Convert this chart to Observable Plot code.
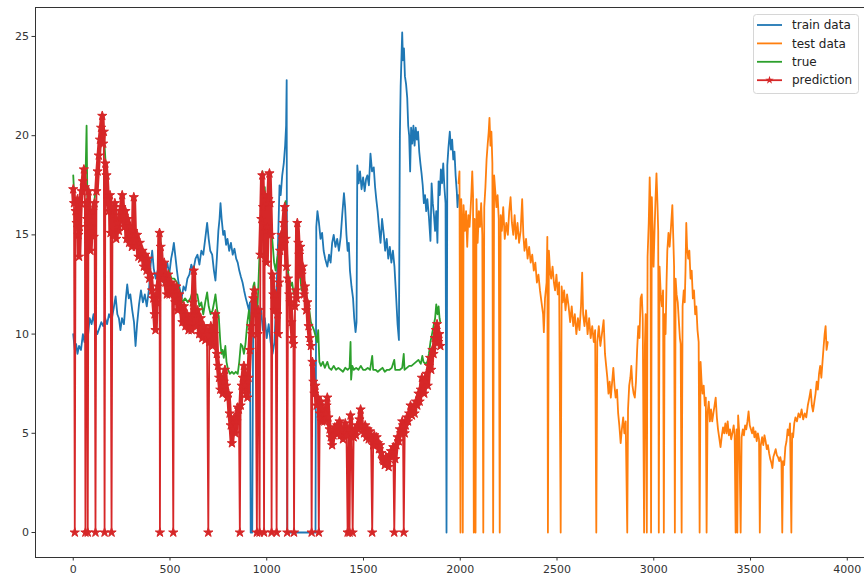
<!DOCTYPE html>
<html>
<head>
<meta charset="utf-8">
<script src="https://cdn.jsdelivr.net/npm/d3@7"></script>
<script src="https://cdn.jsdelivr.net/npm/@observablehq/plot@0.6"></script>
<style>
  html, body { margin: 0; padding: 0; background: #fff; }
  #chart { width: 864px; height: 581px; }
</style>
</head>
<body>
<div id="chart"></div>
<script>
// ---- data: [x, value] pairs ----
const train = [[0,10.0],[8,9.2],[15,9.5],[22,9.0],[30,9.4],[40,9.2],[50,10.0],[58,9.6],[66,10.2],[75,9.8],[85,10.8],[95,10.5],[105,11.0],[112,10.4],[124,10.0],[135,10.3],[145,10.6],[155,10.4],[165,10.8],[175,10.5],[185,11.0],[198,10.7],[209,11.3],[219,11.9],[228,11.0],[236,10.8],[244,10.2],[252,10.8],[262,10.5],[272,11.8],[279,12.5],[287,11.8],[295,12.0],[305,11.2],[314,10.6],[322,9.4],[330,10.5],[340,11.5],[350,12.2],[360,11.6],[370,12.0],[380,11.4],[392,12.3],[400,13.5],[408,14.2],[416,13.3],[426,12.8],[436,13.2],[446,12.5],[456,13.0],[466,12.6],[476,13.2],[486,13.6],[496,13.0],[506,13.8],[514,14.2],[520,14.6],[528,13.9],[536,13.2],[544,12.6],[552,12.2],[560,11.8],[570,12.4],[580,12.2],[590,12.8],[600,13.0],[610,13.5],[620,13.2],[632,13.8],[642,14.0],[652,13.5],[662,14.2],[672,14.0],[682,14.8],[692,15.6],[700,14.8],[708,14.2],[718,14.0],[727,13.2],[735,12.7],[742,13.8],[750,15.2],[756,15.8],[761,16.6],[767,15.8],[775,15.0],[782,15.2],[790,14.5],[797,14.8],[806,14.2],[815,14.6],[824,14.0],[833,14.3],[842,13.8],[850,13.6],[858,13.2],[866,12.9],[875,12.6],[883,12.2],[892,11.8],[900,11.5],[908,11.2],[913,11.6],[917,0],[925,0],[930,11.0],[940,11.8],[950,11.2],[960,10.6],[970,11.3],[980,10.2],[990,10.8],[1000,9.8],[1010,10.5],[1020,9.6],[1030,9.0],[1040,9.6],[1050,12.0],[1060,15.2],[1066,17.5],[1072,17.0],[1080,18.0],[1088,18.6],[1095,19.5],[1100,20.5],[1103,22.8],[1106,0],[1252,0],[1256,15.4],[1262,16.2],[1270,15.6],[1278,14.8],[1286,15.1],[1294,14.2],[1302,13.8],[1313,13.4],[1322,14.0],[1330,13.6],[1338,14.6],[1346,15.0],[1355,14.4],[1364,14.8],[1373,14.2],[1382,14.9],[1390,16.0],[1399,17.1],[1405,16.4],[1412,15.0],[1418,14.2],[1424,14.6],[1430,13.2],[1438,12.4],[1446,11.8],[1452,10.8],[1459,10.1],[1464,10.6],[1468,18.5],[1475,17.6],[1482,18.2],[1490,17.3],[1498,17.9],[1506,17.2],[1513,17.8],[1520,18.0],[1528,17.5],[1536,19.1],[1544,18.2],[1553,18.4],[1560,17.4],[1566,16.8],[1573,16.2],[1580,15.4],[1588,14.6],[1596,15.8],[1605,15.0],[1612,14.2],[1620,14.8],[1628,13.8],[1636,14.4],[1644,13.6],[1652,14.2],[1660,13.4],[1668,12.0],[1676,10.5],[1683,9.7],[1688,20.0],[1692,22.5],[1697,24.2],[1700,25.2],[1704,23.8],[1709,24.4],[1714,23.0],[1720,22.6],[1726,21.9],[1731,20.5],[1736,20.0],[1741,18.2],[1746,20.4],[1752,19.6],[1758,20.5],[1764,19.5],[1770,20.4],[1776,19.8],[1782,20.2],[1788,19.2],[1794,18.6],[1800,18.1],[1806,17.5],[1812,16.6],[1818,17.0],[1824,16.2],[1830,16.8],[1838,15.9],[1846,14.7],[1852,17.6],[1858,16.6],[1864,16.0],[1870,15.2],[1876,16.2],[1882,14.6],[1888,17.7],[1894,17.0],[1900,18.3],[1906,17.6],[1912,18.6],[1918,17.4],[1924,16.6],[1929,0],[1933,18.5],[1939,19.4],[1946,20.2],[1952,19.3],[1958,19.8],[1964,18.8],[1970,19.2],[1976,18.0],[1982,17.2],[1986,16.4],[1990,17.0]];

const test = [[1991,17.6],[1996,18.2],[2001,0],[2005,16.8],[2009,15.6],[2013,0],[2017,16.5],[2024,15.2],[2030,16.2],[2036,14.4],[2042,16.0],[2048,15.4],[2054,16.4],[2058,17.2],[2062,18.2],[2066,17.0],[2070,0],[2074,15.8],[2079,0],[2084,16.8],[2090,14.6],[2096,16.2],[2102,15.4],[2108,16.6],[2114,15.0],[2119,0],[2124,16.4],[2130,17.4],[2136,18.8],[2142,19.6],[2147,20.2],[2151,20.9],[2156,19.5],[2161,20.2],[2166,18.6],[2170,0],[2175,18.0],[2181,17.2],[2187,16.4],[2193,17.0],[2199,15.8],[2204,0],[2209,16.0],[2215,15.2],[2222,16.4],[2230,14.8],[2238,15.6],[2246,15.0],[2253,16.2],[2260,16.9],[2267,15.6],[2274,15.0],[2281,16.0],[2288,14.8],[2296,15.6],[2304,14.6],[2312,15.2],[2320,16.8],[2326,15.0],[2332,14.2],[2340,14.8],[2348,13.8],[2356,14.4],[2364,13.6],[2372,14.0],[2380,13.2],[2388,13.6],[2396,12.6],[2404,13.0],[2412,12.2],[2420,11.6],[2428,11.0],[2432,10.1],[2438,11.8],[2446,12.6],[2450,14.9],[2453,0],[2458,14.2],[2464,13.2],[2470,12.8],[2477,13.4],[2484,12.6],[2490,12.2],[2497,13.0],[2504,12.0],[2511,12.6],[2519,0],[2524,12.4],[2530,11.6],[2537,12.2],[2544,11.2],[2552,12.0],[2560,11.4],[2568,10.6],[2576,11.4],[2584,10.4],[2592,11.0],[2600,10.0],[2608,10.8],[2616,10.2],[2624,11.4],[2630,13.1],[2635,11.0],[2642,10.4],[2650,11.2],[2658,10.0],[2666,10.8],[2674,9.8],[2682,10.4],[2690,9.6],[2697,10.2],[2703,0],[2708,9.6],[2716,10.4],[2724,9.4],[2732,10.0],[2741,10.7],[2748,9.0],[2754,8.4],[2760,7.8],[2766,7.0],[2772,7.6],[2778,6.8],[2785,7.6],[2791,8.3],[2797,7.4],[2803,6.8],[2810,7.2],[2816,6.0],[2822,5.4],[2829,4.5],[2835,5.2],[2842,5.8],[2848,5.0],[2855,5.6],[2863,0],[2867,6.2],[2873,7.4],[2879,7.8],[2884,8.4],[2890,7.4],[2896,7.0],[2902,6.8],[2908,7.6],[2914,9.2],[2920,10.4],[2926,9.8],[2932,11.8],[2938,12.0],[2943,10.8],[2950,0],[2954,9.4],[2958,11.0],[2964,0],[2968,13.9],[2974,15.6],[2979,17.9],[2983,16.4],[2986,0],[2990,16.9],[2995,15.0],[2999,13.4],[3004,15.2],[3009,16.8],[3014,18.1],[3019,16.6],[3023,15.2],[3026,0],[3030,13.4],[3036,12.0],[3042,11.4],[3048,12.2],[3052,0],[3056,11.0],[3061,10.0],[3066,12.6],[3070,14.2],[3076,15.1],[3082,14.4],[3089,15.4],[3096,16.5],[3101,14.8],[3105,13.4],[3109,0],[3113,12.8],[3118,12.0],[3124,11.6],[3130,10.6],[3135,9.8],[3139,9.5],[3144,0],[3149,11.4],[3155,12.2],[3160,11.6],[3164,13.2],[3168,15.6],[3172,14.4],[3178,13.8],[3184,14.2],[3190,12.8],[3196,13.2],[3202,11.8],[3208,12.2],[3214,11.0],[3220,11.4],[3226,10.2],[3232,9.6],[3237,0],[3242,8.6],[3247,7.6],[3252,7.0],[3258,7.4],[3264,6.4],[3269,6.8],[3273,0],[3278,6.0],[3284,6.6],[3290,5.6],[3296,6.2],[3302,5.6],[3308,6.0],[3314,6.4],[3320,6.8],[3326,5.8],[3332,5.2],[3338,4.8],[3345,4.3],[3352,4.9],[3358,5.3],[3364,5.0],[3370,5.5],[3376,5.0],[3382,5.6],[3388,4.9],[3394,5.2],[3400,4.7],[3406,5.0],[3413,5.4],[3418,4.9],[3423,0],[3428,5.2],[3432,0],[3436,5.9],[3442,5.0],[3449,0],[3454,4.8],[3460,5.2],[3466,4.9],[3472,5.4],[3478,5.2],[3484,5.6],[3490,6.1],[3496,5.4],[3502,5.2],[3508,5.0],[3514,5.3],[3520,4.8],[3526,5.1],[3532,4.6],[3538,5.0],[3544,4.7],[3548,0],[3553,4.4],[3560,4.8],[3566,4.4],[3572,4.9],[3578,4.6],[3584,4.2],[3590,4.4],[3596,4.0],[3602,3.7],[3608,3.5],[3613,3.25],[3618,3.8],[3624,4.0],[3630,4.2],[3636,3.9],[3642,3.8],[3648,3.6],[3654,3.8],[3660,3.5],[3664,0],[3668,3.6],[3674,3.4],[3680,4.3],[3686,4.6],[3692,5.2],[3698,4.9],[3704,5.5],[3711,0],[3715,5.0],[3720,4.8],[3726,5.5],[3732,5.8],[3740,5.6],[3748,6.0],[3756,5.8],[3764,6.2],[3772,5.7],[3780,6.0],[3788,5.8],[3796,6.4],[3804,6.8],[3811,7.2],[3817,6.4],[3823,6.1],[3830,6.6],[3836,7.0],[3842,7.6],[3848,7.2],[3854,8.0],[3860,8.4],[3866,7.8],[3872,8.6],[3878,9.4],[3883,10.0],[3888,10.4],[3893,9.2],[3899,9.6]];

const truth = [[0,18.0],[6,16.8],[12,16.6],[20,16.0],[28,14.4],[36,16.2],[44,17.4],[52,18.0],[60,17.8],[65,18.6],[69,20.5],[73,16.8],[82,16.4],[90,14.6],[100,16.4],[110,16.8],[120,17.6],[132,19.2],[144,20.4],[150,21.0],[160,19.8],[170,18.2],[182,16.6],[195,15.4],[208,15.6],[222,15.2],[236,15.6],[250,16.8],[264,15.6],[278,15.2],[292,15.0],[306,14.8],[313,16.8],[322,14.8],[338,14.2],[352,14.2],[366,13.8],[380,13.6],[395,13.0],[410,12.4],[424,11.0],[436,12.6],[446,15.2],[452,14.6],[466,13.2],[480,12.8],[494,13.2],[508,12.8],[522,12.8],[536,12.6],[550,12.2],[564,11.6],[578,11.8],[592,11.6],[606,11.8],[618,12.2],[623,13.4],[632,12.0],[641,12.0],[652,11.4],[662,11.6],[672,11.0],[682,11.6],[692,12.1],[700,11.4],[710,11.0],[720,11.2],[728,11.6],[735,12.0],[744,11.2],[752,10.9],[760,9.6],[766,9.0],[772,9.2],[778,8.8],[786,9.4],[792,8.6],[800,8.2],[810,8.0],[820,8.1],[830,8.0],[840,8.1],[850,8.0],[858,8.6],[866,9.5],[874,9.4],[882,9.0],[890,9.5],[900,10.6],[908,11.2],[916,10.4],[924,11.2],[930,12.4],[936,12.6],[944,11.6],[952,11.2],[958,12.8],[965,14.6],[972,16.4],[978,18.2],[984,17.0],[990,17.4],[996,15.8],[1003,16.4],[1010,17.2],[1016,18.0],[1022,15.4],[1030,14.6],[1038,13.6],[1046,13.2],[1054,13.8],[1062,14.2],[1070,15.0],[1078,14.6],[1086,15.8],[1092,16.0],[1097,16.7],[1102,14.8],[1108,13.4],[1114,12.8],[1122,12.4],[1131,12.6],[1140,12.0],[1148,12.2],[1155,12.8],[1158,15.6],[1164,14.4],[1172,13.0],[1180,12.2],[1188,12.4],[1196,11.8],[1204,12.0],[1212,11.6],[1220,11.2],[1228,10.6],[1236,10.4],[1244,10.2],[1252,9.9],[1260,9.6],[1266,10.2],[1272,8.6],[1280,8.4],[1290,8.6],[1300,8.3],[1313,8.6],[1322,8.3],[1334,8.2],[1346,8.4],[1358,8.2],[1370,8.3],[1382,8.2],[1394,8.1],[1406,8.3],[1418,8.2],[1428,8.3],[1433,9.6],[1436,7.7],[1442,8.4],[1450,8.2],[1462,8.3],[1474,8.2],[1486,8.4],[1498,8.2],[1510,8.2],[1522,8.3],[1534,8.2],[1545,8.9],[1550,8.2],[1562,8.2],[1574,8.1],[1586,8.2],[1598,8.3],[1610,8.1],[1622,8.2],[1634,8.2],[1646,8.3],[1659,8.7],[1664,8.2],[1676,8.2],[1688,8.2],[1700,8.3],[1708,9.0],[1712,8.2],[1724,8.3],[1736,8.4],[1748,8.4],[1760,8.5],[1772,8.6],[1784,8.7],[1796,8.5],[1804,8.9],[1810,8.6],[1820,8.5],[1830,8.6],[1838,9.0],[1846,9.6],[1854,10.0],[1862,10.4],[1870,10.8],[1876,11.5],[1882,11.0],[1888,11.4],[1893,10.8],[1897,10.6]];

const prediction = [[0,17.3],[4,16.6],[8,0],[12,16.2],[17,15.6],[22,16.8],[27,15.0],[30,13.9],[34,15.4],[38,16.6],[44,17.2],[50,17.7],[55,18.3],[60,17.4],[63,0],[67,16.6],[71,15.8],[75,0],[79,17.2],[84,16.0],[89,14.2],[94,15.4],[100,16.2],[106,14.9],[110,16.6],[115,0],[120,17.2],[126,18.2],[132,19.0],[138,19.8],[144,20.4],[150,21.0],[155,19.6],[158,20.2],[162,0],[166,18.6],[172,18.0],[178,16.8],[184,16.2],[190,17.0],[193,15.1],[198,0],[203,16.0],[209,15.0],[215,16.6],[222,14.8],[229,15.6],[236,15.2],[243,16.2],[249,16.4],[253,17.0],[258,16.0],[264,15.4],[270,16.2],[276,14.8],[282,15.8],[289,14.6],[296,15.4],[303,14.4],[310,15.2],[313,16.9],[318,15.0],[324,14.4],[330,15.0],[337,13.9],[344,14.6],[351,13.8],[358,14.2],[365,13.4],[372,14.0],[379,13.2],[386,13.8],[393,12.8],[400,13.0],[407,12.2],[414,11.8],[420,11.0],[425,10.2],[430,11.6],[437,12.4],[443,13.0],[446,15.1],[448,0],[452,14.4],[458,13.4],[464,12.8],[470,13.6],[477,12.6],[484,12.0],[491,13.0],[498,12.0],[505,12.6],[511,12.2],[517,0],[521,12.4],[527,11.6],[533,12.4],[540,11.2],[548,12.0],[556,11.4],[564,10.6],[572,11.4],[580,10.4],[588,11.0],[596,10.2],[604,10.8],[612,10.2],[618,11.6],[623,13.2],[628,11.2],[635,10.4],[643,11.2],[651,10.0],[659,10.8],[667,9.8],[675,10.4],[683,9.7],[691,10.2],[698,0],[703,9.6],[711,10.4],[719,9.4],[727,10.0],[735,11.0],[742,9.0],[748,8.4],[754,7.8],[760,7.2],[766,7.8],[772,7.0],[778,7.6],[784,8.2],[790,7.4],[796,6.8],[802,7.0],[808,6.0],[814,5.4],[820,4.5],[826,5.2],[832,5.8],[838,5.0],[844,5.6],[850,6.3],[856,6.2],[861,0],[865,6.4],[870,7.4],[876,7.8],[882,8.4],[888,7.4],[894,7.0],[900,6.8],[906,7.8],[912,9.2],[918,10.4],[924,10.0],[930,11.8],[936,12.2],[942,11.0],[949,0],[953,10.0],[957,11.2],[963,0],[967,14.0],[972,15.8],[977,18.0],[981,16.4],[986,0],[990,17.0],[995,15.2],[999,13.6],[1004,15.4],[1009,16.8],[1014,18.1],[1018,16.6],[1022,15.0],[1025,0],[1029,13.0],[1034,12.0],[1040,11.2],[1046,12.0],[1051,0],[1055,11.0],[1060,10.0],[1064,12.6],[1069,14.2],[1075,15.0],[1081,14.4],[1087,15.6],[1093,16.4],[1098,14.8],[1102,13.4],[1106,0],[1110,12.8],[1116,12.0],[1122,11.6],[1128,10.6],[1134,9.8],[1138,9.5],[1141,0],[1146,11.4],[1151,12.2],[1155,11.8],[1158,15.6],[1163,14.6],[1168,14.0],[1174,14.4],[1180,13.0],[1186,13.4],[1192,12.0],[1198,12.4],[1204,11.2],[1210,11.6],[1216,10.4],[1222,9.8],[1228,9.4],[1232,0],[1236,8.6],[1241,7.6],[1246,7.0],[1252,7.4],[1258,6.4],[1264,6.8],[1269,0],[1274,6.0],[1280,6.6],[1286,5.6],[1292,6.2],[1298,5.6],[1304,6.0],[1309,6.4],[1313,6.8],[1319,5.8],[1325,5.2],[1331,4.8],[1338,4.4],[1345,4.9],[1352,5.3],[1358,5.0],[1364,5.4],[1370,5.0],[1376,5.6],[1382,4.9],[1388,5.2],[1394,4.7],[1400,5.0],[1406,5.5],[1412,4.9],[1418,0],[1423,5.2],[1428,0],[1433,5.9],[1438,5.0],[1444,0],[1449,4.8],[1455,5.2],[1461,4.9],[1467,5.4],[1473,5.2],[1479,5.7],[1485,6.2],[1491,5.4],[1497,5.2],[1503,5.0],[1509,5.4],[1515,4.8],[1521,5.2],[1527,4.7],[1533,5.1],[1539,4.7],[1545,0],[1550,4.4],[1556,4.9],[1562,4.4],[1568,4.8],[1574,4.5],[1580,4.2],[1586,4.4],[1592,4.0],[1598,3.7],[1604,3.6],[1610,3.4],[1616,3.8],[1622,3.5],[1630,3.3],[1636,3.9],[1642,4.1],[1648,3.8],[1654,4.3],[1659,0],[1664,3.7],[1670,4.4],[1676,4.8],[1682,4.6],[1688,5.2],[1694,5.0],[1700,5.6],[1704,5.4],[1708,0],[1713,5.0],[1718,5.4],[1724,5.8],[1730,5.6],[1736,6.0],[1743,6.4],[1750,5.9],[1757,6.3],[1764,6.0],[1771,6.6],[1778,6.4],[1784,7.0],[1790,6.6],[1796,7.2],[1802,7.8],[1808,7.2],[1814,7.0],[1820,7.6],[1826,8.0],[1832,7.4],[1838,8.4],[1844,8.8],[1850,8.2],[1856,9.2],[1862,9.0],[1868,9.8],[1874,10.2],[1880,10.5],[1886,9.6],[1892,10.0],[1897,9.4]];

const xTicks = [0, 500, 1000, 1500, 2000, 2500, 3000, 3500, 4000];
const yTicks = [0, 5, 10, 15, 20, 25];
const seriesNames = ["train data", "test data", "true", "prediction"];
const seriesColors = ["#1f77b4", "#ff7f0e", "#2ca02c", "#d62728"];

const X = d => d[0], Y = d => d[1];
// the dense star chain of the reference reads as a thick band between the zero drops
const Yband = d => (d[1] === 0 ? NaN : d[1]);
const LW = 1.8;

const svg = Plot.plot({
  width: 864,
  height: 581,
  marginLeft: 35,
  marginTop: 7,
  marginRight: 0,
  marginBottom: 24,
  style: { fontFamily: "DejaVu Sans, sans-serif", fontSize: "11px", color: "#333", background: "#fff", overflow: "visible" },
  x: { domain: [-195, 4089], ticks: xTicks, tickFormat: d3.format("d"), tickSize: 3.5, tickPadding: 4, label: null },
  y: { domain: [-1.26, 26.46], ticks: yTicks, tickFormat: d3.format("d"), tickSize: 3.5, tickPadding: 3, label: null },
  marks: [
    Plot.line(train, { x: X, y: Y, stroke: seriesColors[0], strokeWidth: LW }),
    Plot.line(test, { x: X, y: Y, stroke: seriesColors[1], strokeWidth: LW }),
    Plot.line(truth, { x: X, y: Y, stroke: seriesColors[2], strokeWidth: LW }),
    Plot.line(prediction, { x: X, y: Y, stroke: seriesColors[3], strokeWidth: LW }),
    Plot.line(prediction, { x: X, y: Yband, stroke: seriesColors[3], strokeWidth: 4.5, strokeLinejoin: "round" }),
    Plot.dot(prediction, { x: X, y: Y, symbol: "star", r: 2.9, fill: seriesColors[3], stroke: seriesColors[3], strokeWidth: 1 }),
    Plot.frame({ stroke: "#333", strokeWidth: 1 }),
    Plot.axisX({ ticks: xTicks, tickFormat: d3.format("d"), tickSize: 3.5, tickPadding: 4, stroke: "#333" }),
    Plot.axisY({ ticks: yTicks, tickFormat: d3.format("d"), tickSize: 3.5, tickPadding: 3, stroke: "#333" })
  ]
});

// legend (upper right, matplotlib style)
const g = d3.select(svg).append("g")
  .attr("font-family", "DejaVu Sans, sans-serif").attr("font-size", 12)
  .attr("fill", "#222").attr("text-anchor", "start");
g.append("rect").attr("x", 753.5).attr("y", 14.5).attr("width", 105).attr("height", 79).attr("rx", 3)
  .attr("fill", "#fff").attr("fill-opacity", 0.8).attr("stroke", "#d6d6d6");
seriesNames.forEach((name, i) => {
  const yy = 25 + i * 18.4;
  g.append("line").attr("x1", 757).attr("x2", 782).attr("y1", yy).attr("y2", yy)
    .attr("stroke", seriesColors[i]).attr("stroke-width", LW);
  if (i === 3) {
    g.append("path").attr("d", d3.symbol(d3.symbolStar, Math.PI * 2.6 * 2.6)())
      .attr("transform", `translate(769.5,${yy})`).attr("fill", seriesColors[i]);
  }
  g.append("text").attr("x", 792).attr("y", yy).attr("dy", "0.35em").attr("text-anchor", "start").text(name);
});

document.getElementById("chart").appendChild(svg);
</script>
</body>
</html>
